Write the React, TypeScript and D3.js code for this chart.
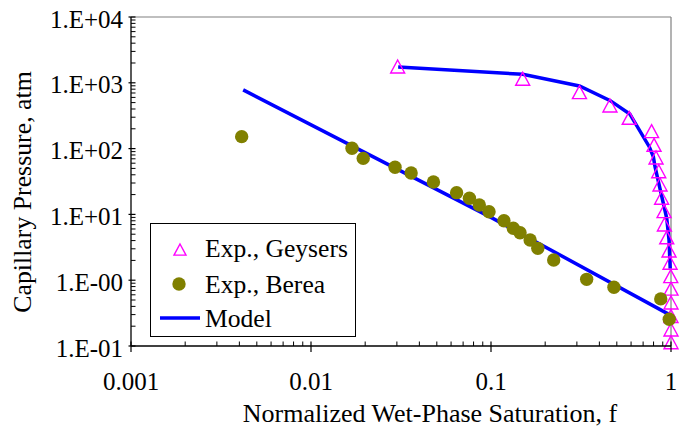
import React from "react";
import * as d3 from "d3";

const W = 699;
const H = 431;

// Tick definitions
const xTickValues = [0.001, 0.01, 0.1, 1];
const xTickLabels = ["0.001", "0.01", "0.1", "1"];
const yTickValues = [0.1, 1, 10, 100, 1000, 10000];
const yTickLabels = ["1.E-01", "1.E-00", "1.E+01", "1.E+02", "1.E+03", "1.E+04"];

// Exp., Geysers
const geysersX = [0.0303, 0.15, 0.31, 0.458, 0.586, 0.78, 0.805, 0.826, 0.855, 0.869, 0.887, 0.915, 0.919, 0.947, 0.975, 0.988, 0.997, 1.0, 1.0, 1.0, 1.0, 1.0];
const geysersY = [1738, 1130, 708, 444, 288, 181, 112, 72, 44.5, 28, 17.6, 11.0, 6.9, 4.4, 2.78, 1.81, 1.13, 0.73, 0.45, 0.28, 0.175, 0.112];

// Exp., Berea
const bereaX = [0.00412, 0.0169, 0.0195, 0.0293, 0.036, 0.0479, 0.0644, 0.0759, 0.0861, 0.0975, 0.118, 0.133, 0.145, 0.165, 0.182, 0.223, 0.34, 0.482, 0.877, 0.978];
const bereaY = [152, 101, 71, 52, 42.6, 31, 21.4, 17.6, 13.9, 11.0, 8.0, 6.15, 5.27, 4.08, 3.05, 2.03, 1.03, 0.78, 0.52, 0.255];

// Model curves
const modelGeysersX = [0.0305, 0.15, 0.31, 0.46, 0.59, 0.757, 0.798, 0.815, 0.947, 0.975, 0.99];
const modelGeysersY = [1740, 1346, 893, 535, 336, 107, 75, 53, 8.7, 4.1, 1.5];
const modelBereaX = [0.0042, 0.1, 0.98];
const modelBereaY = [780, 9, 0.3];

const BLUE = "#0000FF";
const MAGENTA = "#FF00FF";
const OLIVE = "#808000";

const T = ({ children, size = 25, ...props }: any) => (
  <text {...props} style={{ fontFamily: '"Liberation Serif"', fontSize: `${size}px` }} fill="#000">
    {children}
  </text>
);

export default function App() {
  const left = 131, right = 671, top = 17, bottom = 346;
  const x = d3.scaleLog().domain([0.001, 1]).range([left, right]);
  const y = d3.scaleLog().domain([0.1, 10000]).range([bottom, top]);

  const line = d3
    .line<[number, number]>()
    .x((d) => x(d[0]))
    .y((d) => y(d[1]));

  const geysersModel = modelGeysersX.map((v, i) => [v, modelGeysersY[i]] as [number, number]);
  const bereaModel = modelBereaX.map((v, i) => [v, modelBereaY[i]] as [number, number]);

  const triPath = (cx: number, cy: number, s = 7) =>
    `M${cx},${cy - s}L${cx + s},${cy + s * 0.85}L${cx - s},${cy + s * 0.85}Z`;

  // minor ticks
  const xMinor: number[] = [];
  for (let e = -3; e < 0; e++) for (let m = 2; m <= 9; m++) xMinor.push(m * Math.pow(10, e));
  const yMinor: number[] = [];
  for (let e = -1; e < 4; e++) for (let m = 2; m <= 9; m++) yMinor.push(m * Math.pow(10, e));

  return (
    <svg width={W} height={H} style={{ position: "absolute", left: 0, top: 0, background: "#fff" }}>
      <rect x={0} y={0} width={W} height={H} fill="#fff" />
      {/* frame top/right */}
      <line x1={left} y1={top} x2={right} y2={top} stroke="#808080" strokeWidth={1.2} />
      <line x1={right} y1={top} x2={right} y2={bottom} stroke="#808080" strokeWidth={1.2} />

      {/* model lines */}
      <path d={line(bereaModel) || ""} fill="none" stroke={BLUE} strokeWidth={3.5} />
      <path d={line(geysersModel) || ""} fill="none" stroke={BLUE} strokeWidth={3.5} />

      {/* Geysers */}
      {geysersX.map((v, i) => (
        <path key={"g" + i} d={triPath(x(v), y(geysersY[i]))} fill="none" stroke={MAGENTA} strokeWidth={1.4} />
      ))}
      {/* Berea */}
      {bereaX.map((v, i) => (
        <circle key={"b" + i} cx={x(v)} cy={y(bereaY[i])} r={6.7} fill={OLIVE} />
      ))}

      {/* axes */}
      <line x1={left} y1={top} x2={left} y2={bottom} stroke="#000" strokeWidth={1.3} />
      <line x1={left} y1={bottom} x2={right} y2={bottom} stroke="#000" strokeWidth={1.3} />
      {yTickValues.map((v, i) => (
        <g key={"yt" + i}>
          <line x1={left - 2.5} x2={left + 4.5} y1={y(v)} y2={y(v)} stroke="#000" strokeWidth={1.2} />
          <T x={123} y={y(v) + 10.5} textAnchor="end">
            {yTickLabels[i]}
          </T>
        </g>
      ))}
      {yMinor.map((v, i) => (
        <line key={"ym" + i} x1={left} x2={left + 4.5} y1={y(v)} y2={y(v)} stroke="#000" strokeWidth={1} />
      ))}
      {xTickValues.map((v, i) => (
        <g key={"xt" + i}>
          <line x1={x(v)} x2={x(v)} y1={bottom - 4.5} y2={bottom + 6} stroke="#000" strokeWidth={1.2} />
          <T x={x(v)} y={390} textAnchor="middle">
            {xTickLabels[i]}
          </T>
        </g>
      ))}
      {xMinor.map((v, i) => (
        <line key={"xm" + i} x1={x(v)} x2={x(v)} y1={bottom - 4.5} y2={bottom} stroke="#000" strokeWidth={1} />
      ))}

      {/* axis titles */}
      <T x={430} y={421.5} textAnchor="middle" size={26}>
        Normalized Wet-Phase Saturation, f
      </T>
      <T transform={`translate(30.5,192) rotate(-90)`} textAnchor="middle" size={25.8}>
        Capillary Pressure, atm
      </T>

      {/* legend */}
      <rect x={150.5} y={223.5} width={205} height={113} fill="#fff" stroke="#000" strokeWidth={1} />
      <path d={triPath(180, 250, 6)} fill="none" stroke={MAGENTA} strokeWidth={1.4} />
      <T x={205} y={257} size={25.6}>Exp., Geysers</T>
      <circle cx={179} cy={284} r={6.7} fill={OLIVE} />
      <T x={205} y={293} size={25.6}>Exp., Berea</T>
      <line x1={160} x2={200} y1={318} y2={318} stroke={BLUE} strokeWidth={3.5} />
      <T x={205} y={327} size={25.6}>Model</T>
    </svg>
  );
}
